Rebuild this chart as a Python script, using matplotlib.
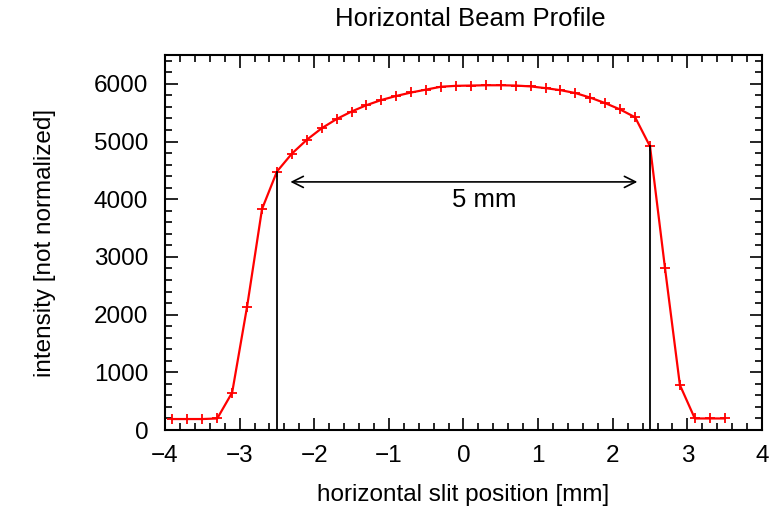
import matplotlib.pyplot as plt
import numpy as np
from matplotlib.ticker import MultipleLocator

plt.rcParams['font.family'] = ['Liberation Sans', 'DejaVu Sans']

# slit positions [mm] and measured intensity
pos = [-3.9, -3.7, -3.5, -3.3, -3.1, -2.9, -2.7, -2.5, -2.3, -2.1,
       -1.9, -1.7, -1.5, -1.3, -1.1, -0.9, -0.7, -0.5, -0.3, -0.1,
       0.1, 0.3, 0.5, 0.7, 0.9, 1.1, 1.3, 1.5, 1.7, 1.9,
       2.1, 2.3, 2.5, 2.7, 2.9, 3.1, 3.3, 3.5]
intensity = [190, 190, 190, 200, 650, 2140, 3830, 4480, 4790, 5030,
             5230, 5390, 5520, 5630, 5720, 5790, 5850, 5900, 5950, 5965,
             5970, 5975, 5975, 5970, 5955, 5925, 5890, 5840, 5760, 5665,
             5555, 5420, 4915, 2810, 780, 200, 200, 200]

# edges of the 5 mm wide region
edges = [-2.5, 2.5]
edge_heights = [4480, 4915]
arrow_y = 4300
arrow_x = [-2.32, 2.33]

fig = plt.figure(figsize=(7.78, 5.09), dpi=100)
ax = fig.add_axes([0.2121, 0.1552, 0.7673, 0.7368])

ax.plot(pos, intensity, color="red", lw=1.6, marker="+", ms=7, mew=1.3)

for x, h in zip(edges, edge_heights):
    ax.plot([x, x], [0, h], color="black", lw=1.3)

ax.annotate("", xy=(arrow_x[0], arrow_y), xytext=(arrow_x[1], arrow_y),
            arrowprops=dict(arrowstyle="<->", color="black", lw=1.2,
                            mutation_scale=20, shrinkA=0, shrinkB=0))
ax.text(0.28, 3980, "5 mm", ha="center", va="center", fontsize=18.5)

ax.set_xlim(-4, 4)
ax.set_ylim(0, 6500)
ax.xaxis.set_major_locator(MultipleLocator(1))
ax.xaxis.set_minor_locator(MultipleLocator(0.2))
ax.yaxis.set_major_locator(MultipleLocator(1000))
ax.yaxis.set_minor_locator(MultipleLocator(200))
ax.tick_params(which="both", direction="in", top=True, right=True, width=1.2)
ax.tick_params(which="major", length=9, labelsize=17.5)
ax.tick_params(axis="x", which="major", pad=11)
ax.tick_params(axis="y", which="major", pad=12)
ax.tick_params(which="minor", length=5)
for s in ax.spines.values():
    s.set_linewidth(1.5)

ax.set_xlabel("horizontal slit position [mm]", fontsize=17.5, labelpad=12)
ax.set_ylabel("intensity [not normalized]", fontsize=17.5, labelpad=27)
fig.text(0.605, 0.962, "Horizontal Beam Profile", ha="center", va="center", fontsize=18.5)

fig.savefig("out.png", dpi=100)
